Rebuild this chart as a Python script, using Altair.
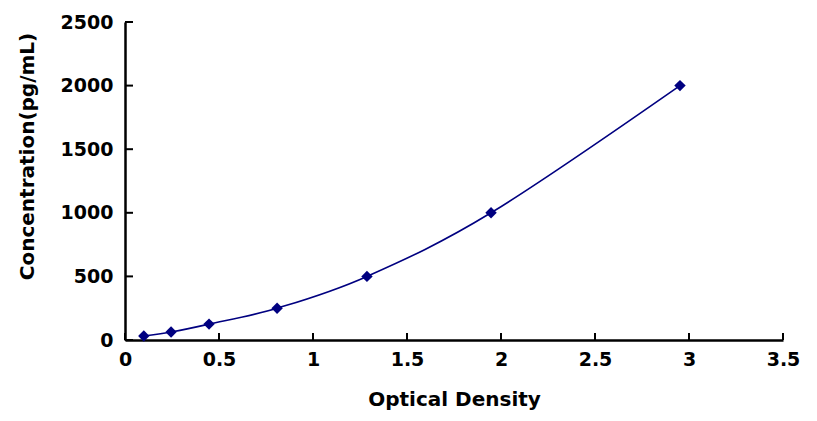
import altair as alt
import pandas as pd

# data
od = [0.1, 0.245, 0.447, 0.809, 1.287, 1.947, 2.952]
conc = [31.25, 62.5, 125, 250, 500, 1000, 2000]
x_ticks = [0, 0.5, 1, 1.5, 2, 2.5, 3, 3.5]
y_ticks = [0, 500, 1000, 1500, 2000, 2500]

W, H = 658, 318
FONT = "DejaVu Sans"
NAVY = "#000080"

df = pd.DataFrame({"od": od, "conc": conc})
dfx = pd.DataFrame({"od": x_ticks})
dfy = pd.DataFrame({"conc": y_ticks})

xscale = alt.Scale(domain=[0, 3.5], nice=False, zero=False)
yscale = alt.Scale(domain=[0, 2500], nice=False)

xaxis = alt.Axis(values=x_ticks, format="~g", title="Optical Density", ticks=False, grid=False,
                 labelFlush=False, labelOverlap=False,
                 labelPadding=10, titlePadding=20, domainWidth=2.5)
yaxis = alt.Axis(values=y_ticks, format="d", title="Concentration(pg/mL)", ticks=False, grid=False,
                 labelFlush=False, labelOverlap=False,
                 labelPadding=12, titleX=-98, titleY=134, titleBaseline="middle",
                 titleAngle=270, titleAlign="center", domainWidth=2.5)

X = alt.X("od:Q", scale=xscale, axis=xaxis)
Y = alt.Y("conc:Q", scale=yscale, axis=yaxis)

line = alt.Chart(df).mark_line(color=NAVY, strokeWidth=1.6, interpolate="cardinal").encode(x=X, y=Y)
pts = alt.Chart(df).mark_point(shape="diamond", filled=True, size=130, color=NAVY, opacity=1).encode(x=X, y=Y)
xt = alt.Chart(dfx).mark_rule(color="black", strokeWidth=2).encode(
    x=X,
    y=alt.value(H - 7),
    y2=alt.value(H),
)
yt = alt.Chart(dfy).mark_rule(color="black", strokeWidth=2).encode(
    y=Y,
    x=alt.value(0),
    x2=alt.value(8),
)

chart = alt.layer(line, xt, yt, pts).properties(
    width=W, height=H,
    autosize=alt.AutoSizeParams(type="none"),
    padding={"left": 117, "top": 14, "right": 26, "bottom": 73},
    background="white",
).configure_view(stroke=None).configure_axis(
    domainColor="black",
    labelFont=FONT, labelFontWeight="bold", labelFontSize=19, labelColor="black",
    titleFont=FONT, titleFontWeight="bold", titleFontSize=20, titleColor="black",
)

chart.save("out.html", embed_options={"renderer": "svg", "actions": False})
